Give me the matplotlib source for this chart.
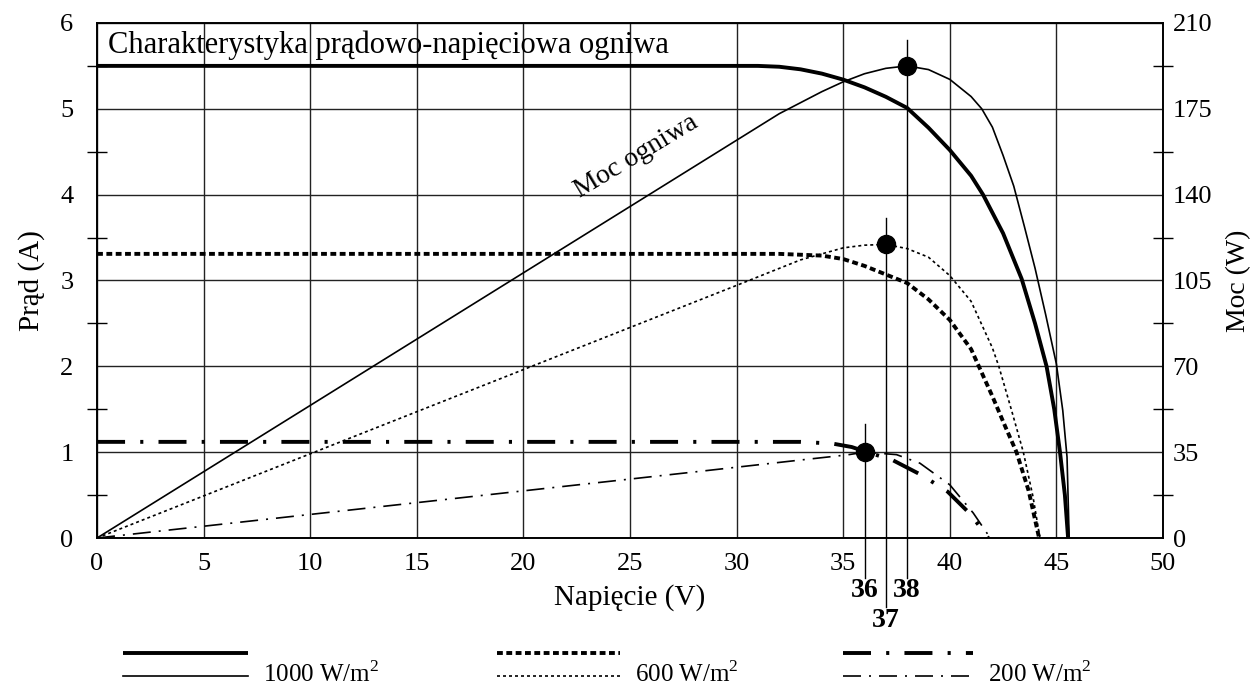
import matplotlib
matplotlib.use('Agg')
import matplotlib.pyplot as plt
from matplotlib.ticker import MultipleLocator
import numpy as np

plt.rcParams['font.family'] = ['Liberation Serif', 'DejaVu Serif']
plt.rcParams['mathtext.fontset'] = 'custom'
plt.rcParams['mathtext.rm'] = 'Liberation Serif'

# current curves (A)
v_i1000 = [0, 31, 32, 33, 34, 35, 36, 37, 38, 39, 40, 41, 41.56, 42.5, 43.37, 44.0, 44.54, 44.9, 45.17, 45.4, 45.55]
i_1000 = [5.5, 5.5, 5.49, 5.46, 5.41, 5.34, 5.25, 5.14, 5.01, 4.78, 4.52, 4.22, 4.0, 3.55, 3.02, 2.5, 2.0, 1.5, 1.0, 0.5, 0]
v_i600 = [0, 32, 33, 34, 35, 36, 37, 38, 39, 40, 41, 42, 42.6, 43.13, 43.7, 44.19]
i_600 = [3.31, 3.31, 3.30, 3.29, 3.25, 3.17, 3.07, 2.97, 2.78, 2.54, 2.2, 1.65, 1.3, 1.0, 0.55, 0]
v_i200 = [0, 33, 34.5, 35.4, 36, 37.3, 38.7, 39.9, 41.0, 41.8]
i_200 = [1.12, 1.12, 1.10, 1.06, 1.01, 0.91, 0.73, 0.54, 0.27, 0]

# power curves (W)
v_p1000 = [0, 32, 33, 34, 35, 36, 37, 38, 39, 40, 41, 41.5, 42, 42.5, 43, 43.5, 44, 44.5, 45, 45.3, 45.5, 45.6]
p_1000 = [0, 173, 177.5, 182, 186, 189.3, 191.5, 192.5, 191, 187, 180, 175, 167.5, 156, 143.5, 127, 110, 91, 71, 52, 33, 0]
v_p600 = [0, 30, 33, 35, 36, 37, 38, 39, 40, 41, 42, 42.3, 42.9, 43.45, 43.9, 44.23]
p_600 = [0, 103, 113.4, 118.3, 119.4, 119.7, 118, 114.5, 107, 96.5, 77.5, 70, 52, 35, 17, 0]
v_p200 = [0, 28.4, 33, 35.2, 36, 37.5, 38.6, 40, 41.1, 41.9]
p_200 = [0, 27.3, 31.8, 33.9, 35, 34, 30.5, 21.7, 10.2, 0]

# maximum power points
mpp_v = [38, 37, 36]
mpp_p = [192.5, 119.7, 35]
labels = ['1000 W/m$^2$', '600 W/m$^2$', '200 W/m$^2$']

fig = plt.figure(figsize=(12.54, 6.96), dpi=100)
ax = fig.add_axes([0.0774, 0.227, 0.85, 0.74])
ax2 = ax.twinx()

thick = 2.8
thin = 1.2
ls_cur = ['-', (0, (1.5, 0.9)), (0, (7.2, 3.9, 0.8, 3.9))]
ls_pow = ['-', (0, (1.8, 1.8)), (0, (10.8, 4.8, 1.2, 4.8))]

ax.plot(v_i1000, i_1000, color='black', lw=thick, ls=ls_cur[0], solid_capstyle='butt')
ax.plot(v_i600, i_600, color='black', lw=thick, ls=ls_cur[1], dash_capstyle='butt')
ax.plot(v_i200, i_200, color='black', lw=thick, ls=ls_cur[2], dash_capstyle='butt')

ax2.plot(v_p1000, p_1000, color='black', lw=thin, ls=ls_pow[0])
ax2.plot(v_p600, p_600, color='black', lw=thin, ls=ls_pow[1])
ax2.plot(v_p200, p_200, color='black', lw=thin, ls=ls_pow[2])
ax2.plot(mpp_v, mpp_p, 'o', color='black', ms=13, zorder=5)

ax.set_xlim(0, 50)
ax.set_ylim(0, 6)
ax2.set_ylim(0, 210)

ax.xaxis.set_major_locator(MultipleLocator(5))
ax.yaxis.set_major_locator(MultipleLocator(1))
ax.yaxis.set_minor_locator(MultipleLocator(0.5))
ax2.yaxis.set_major_locator(MultipleLocator(35))
ax2.yaxis.set_minor_locator(MultipleLocator(17.5))

ax.grid(True, which='major', color='#222222', lw=1.0)
ax.tick_params(axis='both', which='major', length=0, labelsize=19)
ax.tick_params(axis='x', pad=11)
ax.tick_params(axis='y', pad=17)
ax.tick_params(axis='y', which='minor', direction='inout', length=14, width=1)
ax2.tick_params(axis='y', which='major', length=0, labelsize=19, pad=7)
ax2.tick_params(axis='y', which='minor', direction='inout', length=14, width=1)

for a in (ax, ax2):
    for s in a.spines.values():
        s.set_linewidth(1.2)

ax.set_xlabel('Napięcie (V)', fontsize=21, labelpad=6)
ax.set_ylabel('Prąd (A)', fontsize=21, labelpad=11)
ax2.set_ylabel('Moc (W)', fontsize=20, labelpad=10)

# vertical marker lines below the points
line_top = [5.80, 3.73, 1.33]
line_bot = [-0.47, -0.80, -0.47]
lab_y = [-0.61, -0.96, -0.61]
for v, t, b, ly in zip(mpp_v, line_top, line_bot, lab_y):
    ax.plot([v, v], [b, t], color='black', lw=1.0, clip_on=False)
    ax.text(v, ly, str(v), ha='center', va='center', fontsize=20, fontweight='bold')

ax.text(0.5, 5.74, 'Charakterystyka prądowo-napięciowa ogniwa', ha='left', va='center', fontsize=22)
ax.text(25.3, 4.45, 'Moc ogniwa', ha='center', va='center', rotation=31,
        rotation_mode='anchor', fontsize=20)

# legend drawn under the plot
lg = fig.add_axes([0, 0, 1, 1], facecolor='none')
lg.set_xlim(0, 1254)
lg.set_ylim(696, 0)
lg.axis('off')
leg_x = [(123, 248), (497, 620), (843, 973)]
for (x0, x1), lc, lp, lab in zip(leg_x, ls_cur, ls_pow, labels):
    lg.plot([x0, x1], [653, 653], color='black', lw=thick, ls=lc, dash_capstyle='butt', solid_capstyle='butt')
    lg.plot([x0, x1], [676, 676], color='black', lw=thin, ls=lp)
    lg.text(x1 + 15, 674, lab, ha='left', va='center', fontsize=18)

fig.savefig('out.png', dpi=100)
